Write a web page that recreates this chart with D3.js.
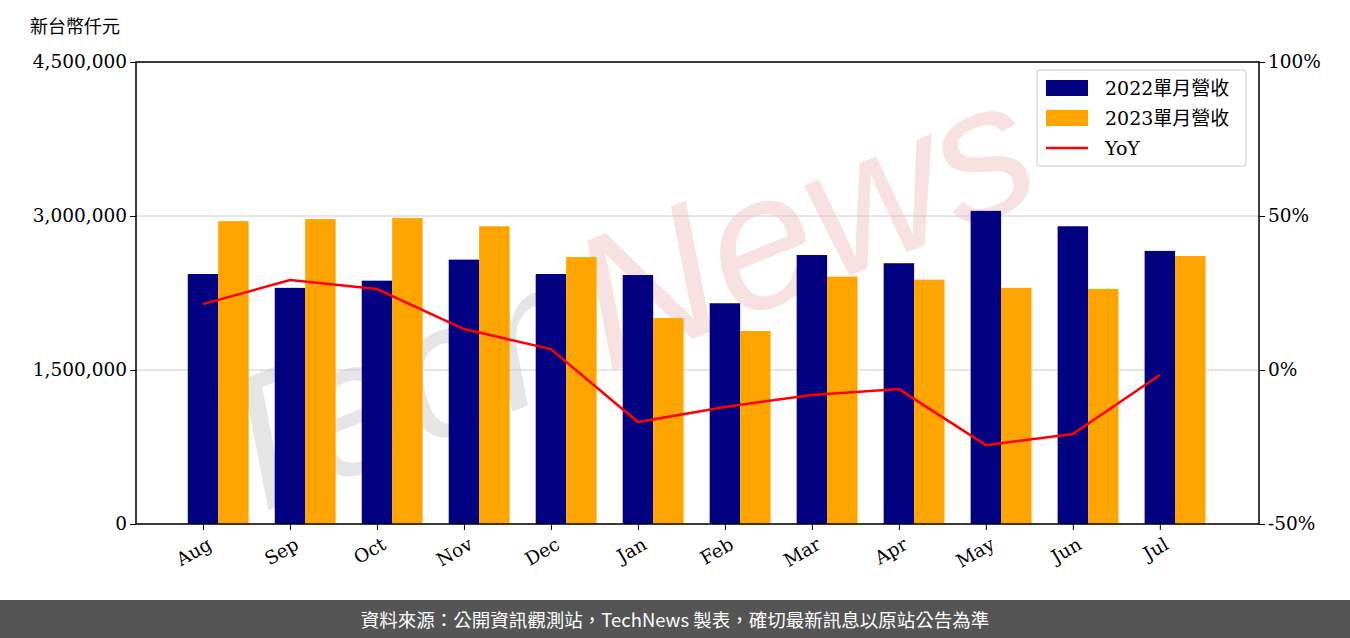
<!DOCTYPE html><html><head><meta charset="utf-8">
<script src="https://cdn.jsdelivr.net/npm/d3@7"></script>
<style>body{margin:0;background:#fff}svg{display:block}</style></head><body>
<svg id="c" width="1350" height="638"></svg>
<script>
const months=["Aug","Sep","Oct","Nov","Dec","Jan","Feb","Mar","Apr","May","Jun","Jul"];
const rev2022=[2435000,2300000,2370000,2575000,2435000,2425000,2150000,2620000,2540000,3050000,2900000,2660000];
const rev2023=[2950000,2970000,2980000,2900000,2600000,2006000,1880000,2410000,2380000,2300000,2290000,2610000];
const yoy=[21.4,29.2,26.3,13.3,6.8,-16.9,-12.0,-8.1,-6.2,-24.4,-20.8,-1.6];
const leftTicks=[0,1500000,3000000,4500000];
const rightTicks=[-50,0,50,100];
const legendLabels=["2022單月營收","2023單月營收","YoY"];

const svg=d3.select("#c");
const L=136,R=1259,T=62,B=524;
const serif="DejaVu Serif, serif";
const x=d3.scaleLinear().domain([-0.77,12.14]).range([L,R]);
const y=d3.scaleLinear().domain([0,4500000]).range([B,T]);
const y2=d3.scaleLinear().domain([-50,100]).range([B,T]);
const bw=x(0.35)-x(0);
// watermark
const wm=svg.append("text").attr("x",640).attr("y",360).attr("text-anchor","middle")
 .attr("transform","rotate(-22,640,360)").attr("font-family","Liberation Sans, sans-serif")
 .attr("font-size",190).attr("font-style","italic").attr("opacity",0.5);
wm.append("tspan").attr("fill","#cccccc").text("Tech");
wm.append("tspan").attr("fill","#f2c4c4").text("News");
// grid
svg.append("g").selectAll("line").data(leftTicks).join("line")
 .attr("x1",L).attr("x2",R).attr("y1",d=>y(d)).attr("y2",d=>y(d)).attr("stroke","#ccc").attr("stroke-width",1);
svg.append("g").selectAll("rect").data(rev2022).join("rect")
 .attr("x",(d,i)=>x(i)-bw/2).attr("width",bw).attr("y",d=>y(d)).attr("height",d=>B-y(d)).attr("fill","#000080");
svg.append("g").selectAll("rect").data(rev2023).join("rect")
 .attr("x",(d,i)=>x(i)+bw/2).attr("width",bw).attr("y",d=>y(d)).attr("height",d=>B-y(d)).attr("fill","#ffa500");
svg.append("path").datum(yoy).attr("fill","none").attr("stroke","#ff0000").attr("stroke-width",2.5)
 .attr("d",d3.line().x((d,i)=>x(i)).y(d=>y2(d)));
// axes
const ga=svg.append("g").attr("transform",`translate(${L},0)`).call(d3.axisLeft(y).tickValues(leftTicks).tickFormat(d3.format(",")).tickSizeOuter(0));
const gb=svg.append("g").attr("transform",`translate(${R},0)`).call(d3.axisRight(y2).tickValues(rightTicks).tickFormat(d=>d+"%").tickSizeOuter(0));
const gx=svg.append("g").attr("transform",`translate(0,${B})`).call(d3.axisBottom(x).tickValues(d3.range(12)).tickFormat(i=>months[i]).tickSizeOuter(0));
gx.selectAll("text").attr("transform","rotate(-30)").attr("text-anchor","end").attr("dx","-0.2em").attr("dy","0.9em");
[ga,gb,gx].forEach(g=>{g.selectAll("text").attr("font-family",serif).attr("font-size",18.5).attr("fill","#000");g.select(".domain").remove();});
svg.append("rect").attr("x",L).attr("y",T).attr("width",R-L).attr("height",B-T).attr("fill","none").attr("stroke","#000").attr("stroke-width",1.5);
svg.append("text").attr("x",30).attr("y",33).attr("font-family","Noto Sans CJK TC").attr("font-size",18).text("新台幣仟元");
// legend
const lg=svg.append("g");
lg.append("rect").attr("x",1037).attr("y",70).attr("width",209).attr("height",96).attr("rx",3).attr("fill","#fff").attr("fill-opacity",0.8).attr("stroke","#ccc");
const cols=["#000080","#ffa500","#ff0000"];
legendLabels.forEach((t,i)=>{
 const yy=88+i*30;
 if(i<2) lg.append("rect").attr("x",1046).attr("y",yy-8).attr("width",42).attr("height",16).attr("fill",cols[i]);
 else lg.append("line").attr("x1",1046).attr("x2",1088).attr("y1",yy).attr("y2",yy).attr("stroke",cols[i]).attr("stroke-width",2.5);
 lg.append("text").attr("x",1105).attr("y",yy+7).attr("font-family",serif+", Noto Sans CJK TC").attr("font-size",19).text(t);
});
svg.append("rect").attr("x",0).attr("y",600).attr("width",1350).attr("height",38).attr("fill","#555");
svg.append("text").attr("x",675).attr("y",627).attr("text-anchor","middle").attr("fill","#fff").attr("font-family","Noto Sans CJK TC").attr("font-size",18.5).text("資料來源：公開資訊觀測站，TechNews 製表，確切最新訊息以原站公告為準");
</script></body></html>
